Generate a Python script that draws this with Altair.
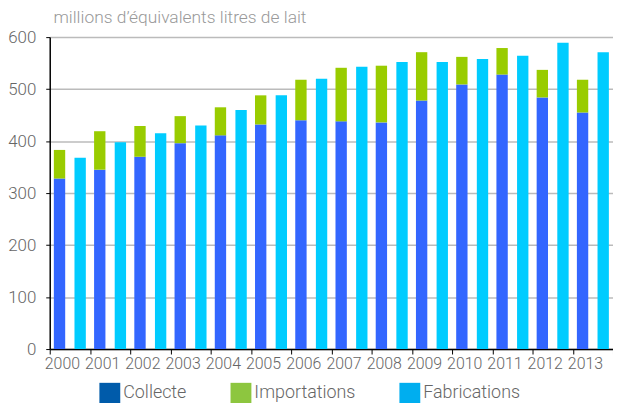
import altair as alt
import pandas as pd

years = [str(y) for y in range(2000, 2014)]
collecte = [328, 345, 370, 396, 411, 432, 440, 438, 436, 478, 509, 528, 484, 455]
importations = [55, 74, 59, 52, 54, 56, 78, 103, 109, 93, 53, 51, 53, 63]
fabrications = [368, 398, 415, 430, 460, 488, 520, 543, 552, 552, 558, 564, 589, 571]

series = ["Collecte", "Importations", "Fabrications"]
bar_colors = ["#3366FF", "#99CC00", "#00CCFF"]
legend_colors = ["#005BAA", "#8DC63F", "#00AEEF"]
y_ticks = [0, 100, 200, 300, 400, 500, 600]

rows = []
for i, yr in enumerate(years):
    rows.append(dict(year=yr, serie="Collecte", grp="a", y0=0, y1=collecte[i]))
    rows.append(dict(year=yr, serie="Importations", grp="a", y0=collecte[i],
                     y1=collecte[i] + importations[i]))
    rows.append(dict(year=yr, serie="Fabrications", grp="b", y0=0, y1=fabrications[i]))
df = pd.DataFrame(rows)
legend_df = pd.DataFrame({"legende": series})

FONT = "Roboto"

x_enc = alt.X(
    "year:N", title=None, sort=years,
    scale=alt.Scale(paddingInner=0, paddingOuter=0),
    axis=alt.Axis(labelAngle=0, tickBand="extent", labelOffset=-8,
                  domainColor="#000", domainWidth=1.5, tickColor="#000",
                  tickSize=5, tickWidth=1, labelPadding=2,
                  labelFont=FONT, labelFontSize=16, labelFontWeight=300,
                  labelColor="#666", grid=False),
)
y_enc = alt.Y(
    "y0:Q", title=None,
    scale=alt.Scale(domain=[0, 600], nice=False),
    axis=alt.Axis(values=y_ticks, domainColor="#000", domainWidth=1.5,
                  tickColor="#000", tickSize=4, labelPadding=10,
                  labelFont=FONT, labelFontSize=17, labelFontWeight=300,
                  labelColor="#666", gridColor="#bbbbbb", gridWidth=1.5),
)

bars = alt.Chart(df).mark_bar().encode(
    x=x_enc,
    xOffset=alt.XOffset("grp:N", scale=alt.Scale(domain=["a", "b"],
                                                 paddingInner=0.45, paddingOuter=0.2)),
    y=y_enc,
    y2="y1:Q",
    fill=alt.Fill("serie:N", scale=alt.Scale(domain=series, range=bar_colors), legend=None),
)

legend_layer = alt.Chart(legend_df).mark_bar().encode(
    y=alt.datum(0),
    y2=alt.datum(0),
    color=alt.Color(
        "legende:N", title=None,
        scale=alt.Scale(domain=series, range=legend_colors),
        legend=alt.Legend(orient="none", legendX=50, legendY=348, direction="horizontal",
                          symbolType="square", symbolSize=441, symbolStrokeWidth=0,
                          symbolOpacity=1,
                          labelFont=FONT, labelFontSize=18, labelFontWeight=300,
                          labelColor="#666", labelOffset=3, columnPadding=44,
                          padding=0, title=None),
    ),
)

chart = alt.layer(bars, legend_layer).resolve_scale(color="independent").properties(
    width=567,
    height=314,
    title=alt.TitleParams("millions d\u2019\u00e9quivalents litres de lait", anchor="start",
                          font=FONT, fontSize=17.5, fontWeight=300, color="#999",
                          offset=2, dx=46),
    autosize=alt.AutoSizeParams(type="none"),
    padding={"left": 42, "top": 28, "right": 0, "bottom": 53},
).configure_view(stroke=None)

chart.save("out.html", embed_options={"renderer": "svg", "actions": False})
